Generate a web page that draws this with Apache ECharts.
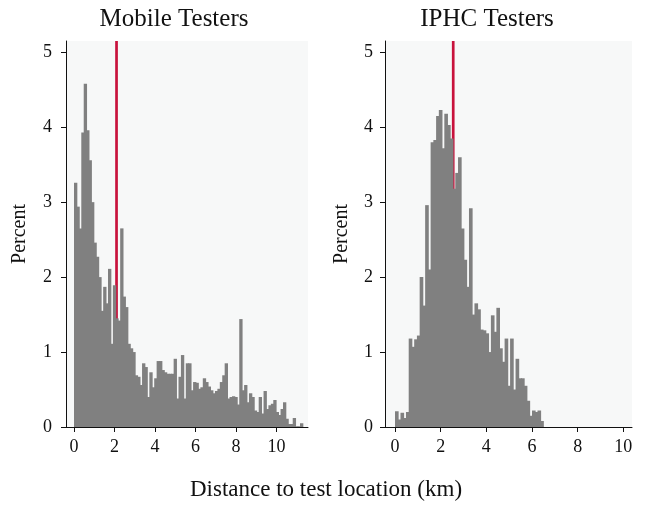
<!DOCTYPE html>
<html><head><meta charset="utf-8">
<script src="https://cdn.jsdelivr.net/npm/echarts@6/dist/echarts.min.js"></script>
<style>html,body{margin:0;padding:0;background:#fff}#c{width:645px;height:512px}</style>
</head><body><div id="c"></div>
<script>
const binWidth = 0.12;
const mobilePct = [3.26,2.94,2.65,3.93,4.58,3.96,3.56,3.0,2.46,2.27,
  2.0,1.55,1.87,1.65,2.11,1.11,1.89,1.45,1.42,2.65,
  1.74,1.6,1.11,1.05,1.0,0.69,0.67,0.56,0.85,0.8,
  0.4,0.73,0.53,0.65,0.88,0.88,0.76,0.73,0.71,0.71,
  0.71,0.91,0.38,0.67,0.96,0.38,0.85,0.85,0.49,0.6,
  0.59,0.51,0.53,0.65,0.6,0.54,0.49,0.45,0.48,0.51,
  0.6,0.69,0.85,0.38,0.4,0.41,0.4,0.3,1.44,0.49,
  0.56,0.33,0.45,0.4,0.22,0.2,0.4,0.18,0.48,0.24,
  0.29,0.31,0.36,0.2,0.16,0.24,0.33,0.11,0.04,0.04,
  0.12,0.01,0.01,0.05];
const iphcPct = [0.21,0.1,0.19,0.12,0.2,1.18,1.07,1.17,1.22,2.0,
  1.62,2.96,2.1,3.8,3.83,4.15,4.23,3.72,4.18,4.03,
  3.85,3.18,3.39,3.6,2.65,2.23,1.87,2.92,1.5,1.65,
  1.57,1.3,1.29,1.25,1.0,1.49,1.27,1.59,1.05,0.87,
  1.18,0.55,1.18,0.5,0.91,0.65,0.65,0.55,0.35,0.15,
  0.22,0.2,0.22,0.08];
const mobileMedian = 2.1;
const iphcMedian = 2.55;
const xTickValues = [0,2,4,6,8,10];
const yTickValues = [0,1,2,3,4,5];
const panelTitles = ['Mobile Testers','IPHC Testers'];
const xAxisTitle = 'Distance to test location (km)';
const yAxisTitle = 'Percent';

const FONT = '"Liberation Serif","Times New Roman",serif';
const yMax = 5.15;
function histData(arr){ return arr.map((v,i)=>[i*binWidth,(i+1)*binWidth,v]); }
function renderBin(params, api){
  const p0 = api.coord([api.value(0), api.value(2)]);
  const p1 = api.coord([api.value(1), 0]);
  return {type:'rect', shape:{x:p0[0], y:p0[1], width:p1[0]-p0[0]+0.9, height:p1[1]-p0[1]},
          style:{fill:'#808080'}};
}
function xAx(idx,min,max){
  return {gridIndex:idx,type:'value',min:min,max:max,
    axisLine:{show:true,onZero:false,lineStyle:{color:'#111',width:1}},
    axisTick:{show:true,length:5,customValues:xTickValues,lineStyle:{color:'#111'}},
    axisLabel:{customValues:xTickValues,fontFamily:FONT,fontSize:18,color:'#111',margin:11},
    splitLine:{show:false}};
}
function yAx(idx,gap,lblMargin){
  return {gridIndex:idx,type:'value',min:0,max:yMax,
    name:yAxisTitle,nameLocation:'middle',nameGap:gap,
    nameTextStyle:{fontFamily:FONT,fontSize:20,color:'#111'},
    axisLine:{show:true,onZero:false,lineStyle:{color:'#111',width:1}},
    axisTick:{show:true,length:5,customValues:yTickValues,lineStyle:{color:'#111'}},
    axisLabel:{customValues:yTickValues,fontFamily:FONT,fontSize:18,color:'#111',margin:lblMargin},
    splitLine:{show:false}};
}
const chart = echarts.init(document.getElementById('c'));
chart.setOption({
  animation:false,
  backgroundColor:'#fff',
  grid:[
    {left:66,top:41,width:242,height:386,show:true,backgroundColor:'#f7f8f8',borderWidth:0},
    {left:385,top:41,width:247,height:386,show:true,backgroundColor:'#f7f8f8',borderWidth:0}
  ],
  xAxis:[xAx(0,-0.395,11.555), xAx(1,-0.438,10.38)],
  yAxis:[yAx(0,36,14), yAx(1,33,12)],
  graphic:[
    {type:'text',x:174,y:19,style:{text:panelTitles[0],align:'center',verticalAlign:'middle',fontFamily:FONT,fontSize:25,fill:'#111'}},
    {type:'text',x:487,y:19,style:{text:panelTitles[1],align:'center',verticalAlign:'middle',fontFamily:FONT,fontSize:25,fill:'#111'}},
    {type:'text',x:326,y:490,style:{text:xAxisTitle,align:'center',verticalAlign:'middle',fontFamily:FONT,fontSize:23,fill:'#111'}}
  ],
  series:[
    {type:'line',xAxisIndex:0,yAxisIndex:0,z:1,symbol:'none',data:[[mobileMedian,0],[mobileMedian,yMax]],
     lineStyle:{color:'#c8123c',width:2.7}},
    {type:'line',xAxisIndex:1,yAxisIndex:1,z:1,symbol:'none',data:[[iphcMedian,0],[iphcMedian,yMax]],
     lineStyle:{color:'#c8123c',width:2.7}},
    {type:'custom',xAxisIndex:0,yAxisIndex:0,z:2,renderItem:renderBin,data:histData(mobilePct),encode:{x:[0,1],y:2}},
    {type:'custom',xAxisIndex:1,yAxisIndex:1,z:2,renderItem:renderBin,data:histData(iphcPct),encode:{x:[0,1],y:2}}
  ]
});
</script></body></html>
